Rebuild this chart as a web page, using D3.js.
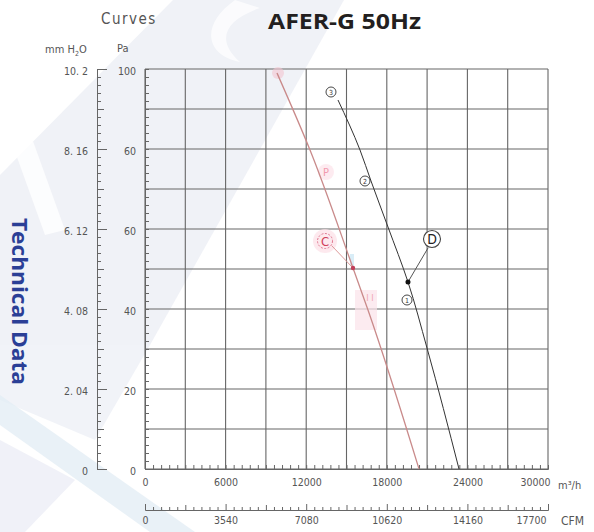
<!DOCTYPE html>
<html><head><meta charset="utf-8">
<script src="https://cdn.jsdelivr.net/npm/d3@7"></script>
<style>
html,body{margin:0;padding:0;background:#fff;}
svg{display:block;}
</style></head>
<body>
<script>
// ---------- data ----------
const title = "AFER-G 50Hz";
const sideTitle = "Technical Data";
const flowTicks = [0, 6000, 12000, 18000, 24000, 30000];          // m3/h
const cfmTicks = [0, 3540, 7080, 10620, 14160, 17700];             // CFM
const paTicks = [0, 20, 40, 60, 80, 100];                          // Pa
const paLabels = ["0", "20", "40", "60", "60", "100"];
const mmLabels = ["0", "2. 04", "4. 08", "6. 12", "8. 16", "10. 2"];
// curve (black) : flow m3/h, pressure Pa
const curveFlow = [14367, 16005, 16824, 18089, 19578, 20993, 23375];
const curvePa   = [92.25, 79.75, 72.0, 60.5, 46.75, 30.25, 0];
// curve (red)
const redFlow = [9826, 12283, 15484, 16600, 20397];
const redPa   = [99.0, 79.75, 50.25, 39.75, 0];
// operating points
const pointD = {flow: 19578, pa: 46.75};
const pointC = {flow: 15484, pa: 50.25};
// circled markers along black curve
const markers = [{t: "3", flow: 13846, pa: 94.25}, {t: "2", flow: 16377, pa: 72}, {t: "1", flow: 19504, pa: 42.25}];

// ---------- drawing ----------
const W = 594, H = 532;
const svg = d3.select("body").append("svg").attr("width", W).attr("height", H);

// background watermark
const bg = svg.append("g");
bg.append("path").attr("d", "M173,0 L344,0 L150,345 L0,345 L0,175 Z").attr("fill", "#e9ecf4").attr("opacity", 0.7);
bg.append("path").attr("d", "M0,345 L150,345 L95,440 L0,400 Z").attr("fill", "#eef0f6").attr("opacity", 0.8);
bg.append("path").attr("d", "M0,395 L0,425 L150,532 L195,532 Z").attr("fill", "#e4eef5").attr("opacity", 0.8);
bg.append("path").attr("d", "M0,440 L75,480 L25,532 L0,532 Z").attr("fill", "#eceef6").attr("opacity", 0.8);
bg.append("path").attr("d", "M0,110 L20,105 L65,230 L45,235 Z").attr("fill", "#fff").attr("opacity", 0.8);
bg.append("path").attr("d", "M235,0 C200,25 205,55 240,62 C215,40 225,20 260,8 Z").attr("fill", "#fff").attr("opacity", 0.7);

const x = d3.scaleLinear().domain([0, 30000]).range([145, 548]);
const cfm = d3.scaleLinear().domain([0, 17700]).range([145, 548]);
const y = d3.scaleLinear().domain([0, 100]).range([469, 69]);

const gridColor = "#666";
const font = "'DejaVu Sans Condensed','Liberation Sans',sans-serif";

// grid
const grid = svg.append("g");
grid.selectAll("line.v").data(d3.range(0, 30001, 3000)).join("line")
  .attr("x1", d => x(d)).attr("x2", d => x(d)).attr("y1", y(0)).attr("y2", y(100))
  .attr("stroke", gridColor).attr("stroke-width", 1.1);
grid.selectAll("line.h").data(d3.range(0, 101, 10)).join("line")
  .attr("x1", x(0)).attr("x2", x(30000)).attr("y1", d => y(d)).attr("y2", d => y(d))
  .attr("stroke", gridColor).attr("stroke-width", 1.1);

function styleAxis(g) {
  g.select(".domain").attr("stroke", gridColor);
  g.selectAll(".tick line").attr("stroke", gridColor);
  g.selectAll("text").attr("fill", "#555").style("font-family", font).style("font-stretch", "condensed").style("font-size", "10.5px");
}

// Pa axis (left edge of plot, ticks inward)
const paAxis = d3.axisLeft(y).tickValues(d3.range(0, 101, 2)).tickSize(-4).tickPadding(9)
  .tickFormat(d => { const i = paTicks.indexOf(d); return i >= 0 ? paLabels[i] : ""; });
svg.append("g").attr("transform", `translate(${x(0)},0)`).call(paAxis).call(styleAxis)
  .selectAll("text").attr("dy", "0.5em");

// mm H2O axis
const mmAxis = d3.axisLeft(y).tickValues(d3.range(0, 101, 2)).tickSize(-4).tickPadding(9)
  .tickFormat(d => { const i = paTicks.indexOf(d); return i >= 0 ? mmLabels[i] : ""; });
const mmG = svg.append("g").attr("transform", "translate(97,0)").call(mmAxis).call(styleAxis);
mmG.selectAll(".tick line").attr("x2", d => (d % 20 === 0) ? 10 : (d % 10 === 0 ? 7 : 4));
mmG.selectAll("text").attr("dy", "0.5em");

// m3/h axis
const flowAxis = d3.axisBottom(x).tickValues(d3.range(0, 30001, 600)).tickSize(-4).tickPadding(10)
  .tickFormat(d => flowTicks.includes(d) ? d : "");
const flowG = svg.append("g").attr("transform", `translate(0,${y(0)})`).call(flowAxis).call(styleAxis);
flowG.selectAll("text").attr("text-anchor", d => d === 30000 ? "end" : "middle").attr("dx", d => d === 30000 ? 2 : 0);

// CFM axis
const cfmAxis = d3.axisBottom(cfm).tickValues(d3.range(0, 17701, 354)).tickSize(-3).tickPadding(7)
  .tickFormat(d => cfmTicks.includes(d) ? d : "");
const cfmG = svg.append("g").attr("transform", "translate(0,510)").call(cfmAxis).call(styleAxis);
cfmG.selectAll(".tick line").attr("y2", d => cfmTicks.includes(d) ? -6 : ((d / 354) % 5 === 0 ? -5 : -3));
cfmG.selectAll("text").attr("text-anchor", d => d === 17700 ? "end" : "middle").attr("dx", d => d === 17700 ? -2 : 0);

// axis unit labels
const lab = (t, xx, yy, anchor, size) => svg.append("text").attr("x", xx).attr("y", yy)
  .attr("text-anchor", anchor || "start").attr("fill", "#555")
  .style("font-family", font).style("font-stretch", "condensed").style("font-size", (size || 11) + "px").text(t);
lab("m³/h", 558, 489);
lab("CFM", 561, 525, "start", 12);
lab("Pa", 117, 52);
const mmT = svg.append("text").attr("x", 45).attr("y", 53).attr("fill", "#555")
  .style("font-family", font).style("font-stretch", "condensed").style("font-size", "11px");
mmT.append("tspan").text("mm H");
mmT.append("tspan").attr("font-size", "7px").attr("dy", 3).text("2");
mmT.append("tspan").attr("dy", -3).text("O");
svg.append("text").attr("x", 101).attr("y", 24).attr("fill", "#555")
  .style("font-family", font).style("font-stretch", "condensed").style("font-size", "15px").attr("letter-spacing", 1.5).text("Curves");

// title
svg.append("text").attr("x", 344.5).attr("y", 29).attr("text-anchor", "middle")
  .attr("fill", "#231f20").style("font-family", "'Open Sans',sans-serif").style("font-weight", 700)
  .style("font-size", "22px").attr("textLength", 153).attr("lengthAdjust", "spacingAndGlyphs").text(title);

// side title
svg.append("text").attr("transform", "translate(12,301.5) rotate(90)").attr("text-anchor", "middle")
  .attr("fill", "#2b3f96").style("font-family", "'Open Sans',sans-serif").style("font-weight", 700)
  .style("font-size", "21px").attr("textLength", 167).attr("lengthAdjust", "spacingAndGlyphs").text(sideTitle);

// faint pink smudges
const pink = svg.append("g");
pink.append("rect").attr("x", 355).attr("y", 290).attr("width", 22).attr("height", 40).attr("fill", "#fbe3e9").attr("opacity", 0.7);
pink.append("circle").attr("cx", 325).attr("cy", 241).attr("r", 12).attr("fill", "#fcdfe7").attr("opacity", 0.7);
pink.append("circle").attr("cx", 326).attr("cy", 172).attr("r", 8).attr("fill", "#fce2e9").attr("opacity", 0.7);
pink.append("circle").attr("cx", 278).attr("cy", 73).attr("r", 6).attr("fill", "#f3c5d0").attr("opacity", 0.6);
pink.append("text").attr("x", 326).attr("y", 176).attr("text-anchor", "middle").attr("fill", "#f29aae")
  .style("font-family", font).style("font-size", "11px").text("P");
pink.append("text").attr("x", 370).attr("y", 301).attr("text-anchor", "middle").attr("fill", "#f0a8b6")
  .style("font-family", font).style("font-size", "9px").text("I I");
pink.append("rect").attr("x", 350).attr("y", 254).attr("width", 4).attr("height", 12).attr("fill", "#cfe8f5").attr("opacity", 0.8);

// curves
const line = d3.line().x(d => x(d[0])).y(d => y(d[1])).curve(d3.curveMonotoneY);
svg.append("path").datum(d3.zip(redFlow, redPa)).attr("d", line)
  .attr("fill", "none").attr("stroke", "#c98a8a").attr("stroke-width", 1.3);
svg.append("path").datum(d3.zip(curveFlow, curvePa)).attr("d", line)
  .attr("fill", "none").attr("stroke", "#333").attr("stroke-width", 1);

// circled curve markers
const mk = svg.append("g").selectAll("g").data(markers).join("g")
  .attr("transform", d => `translate(${x(d.flow)},${y(d.pa)})`);
mk.append("circle").attr("r", 5).attr("fill", "#fff").attr("stroke", "#333").attr("stroke-width", 0.9);
mk.append("text").attr("text-anchor", "middle").attr("dy", 2.5).attr("fill", "#333")
  .style("font-family", font).style("font-size", "7px").text(d => d.t);

// point D
svg.append("line").attr("x1", 428).attr("y1", 248).attr("x2", x(pointD.flow)).attr("y2", y(pointD.pa))
  .attr("stroke", "#555").attr("stroke-width", 1);
svg.append("circle").attr("cx", x(pointD.flow)).attr("cy", y(pointD.pa)).attr("r", 2.5).attr("fill", "#111");
svg.append("circle").attr("cx", 432).attr("cy", 239).attr("r", 8.5).attr("fill", "#fff").attr("stroke", "#444").attr("stroke-width", 1.1);
svg.append("text").attr("x", 432).attr("y", 244).attr("text-anchor", "middle").attr("fill", "#222")
  .style("font-family", font).style("font-size", "14px").text("D");

// point C
svg.append("line").attr("x1", 332).attr("y1", 246).attr("x2", x(pointC.flow)).attr("y2", y(pointC.pa))
  .attr("stroke", "#d99").attr("stroke-width", 1);
svg.append("circle").attr("cx", x(pointC.flow)).attr("cy", y(pointC.pa)).attr("r", 2.2).attr("fill", "#c0405a");
svg.append("circle").attr("cx", 325).attr("cy", 241).attr("r", 7.5).attr("fill", "none").attr("stroke", "#e07890")
  .attr("stroke-width", 1).attr("stroke-dasharray", "2,1.5");
svg.append("text").attr("x", 325).attr("y", 246).attr("text-anchor", "middle").attr("fill", "#d0405a")
  .style("font-family", font).style("font-size", "13px").text("C");
</script>
</body></html>
